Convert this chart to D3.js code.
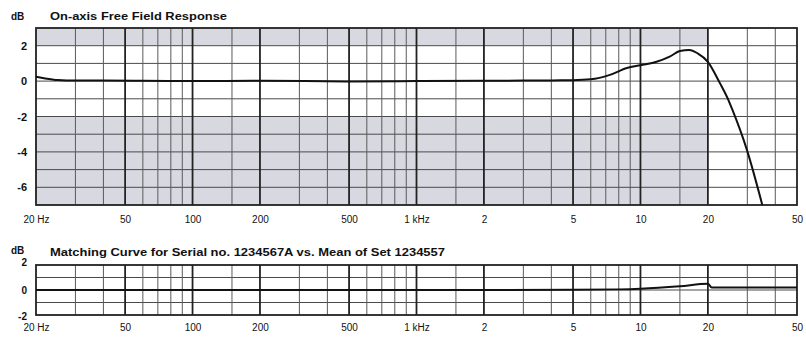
<!DOCTYPE html>
<html>
<head>
<meta charset="utf-8">
<script src="https://cdn.jsdelivr.net/npm/d3@7"></script>
<style>
  body { margin: 0; background: #fff; }
  text { font-family: "Liberation Sans", Arial, sans-serif; fill: #111; }
</style>
</head>
<body>
<div id="chart"></div>
<script>
// Frequency axis
var majorFreqs = [20, 50, 100, 200, 500, 1000, 2000, 5000, 10000, 20000, 50000];
var majorLabels = ["20 Hz", "50", "100", "200", "500", "1 kHz", "2", "5", "10", "20", "50"];
var minorFreqs = [30, 40, 60, 70, 80, 90, 150, 300, 400, 600, 700, 800, 900, 1500,
  3000, 4000, 6000, 7000, 8000, 9000, 15000, 30000, 40000];

// On-axis free field response (dB)
var respFreq = [20, 22, 25, 30, 40, 60, 100, 200, 500, 1000, 2000, 3000, 4000, 5000,
  6000, 7300, 8700, 10000, 11800, 13500, 15000, 16500, 18000, 20000, 22600, 24700, 25700, 29900, 35000];
var respDb = [0.25, 0.15, 0.06, 0.03, 0.03, 0.02, 0.0, 0.02, -0.02, 0.0, 0.02, 0.03, 0.04, 0.05,
  0.1, 0.35, 0.74, 0.9, 1.09, 1.38, 1.7, 1.76, 1.57, 1.09, -0.1, -1.07, -1.6, -3.9, -7.0];
var respTicks = [2, 0, -2, -4, -6];

// Matching curve (dB)
var matchFreq = [20, 100, 1000, 5000, 8000, 10000, 15000, 20000, 20800, 22000, 50000];
var matchDb = [0.0, 0.0, 0.0, 0.02, 0.05, 0.1, 0.3, 0.5, 0.2, 0.2, 0.2];
var matchTicks = [2, 0, -2];

// Shaded tolerance bands, up to 20 kHz
var shadeBands = [[2, 3], [-7, -2]];
var shadeLimit = 20000;

var svgWidth = 806, svgHeight = 340;
var left = 36, right = 797;

var svg = d3.select("#chart").append("svg")
  .attr("width", svgWidth)
  .attr("height", svgHeight);

var x = d3.scaleLog().domain([20, 50000]).range([left, right]);

function drawPanel(opt) {
  var y = d3.scaleLinear().domain(opt.domain).range([opt.bottom, opt.top]);
  var g = svg.append("g");

  // shading
  (opt.bands || []).forEach(function(b) {
    g.append("rect")
      .attr("x", x(20))
      .attr("y", y(b[1]))
      .attr("width", x(shadeLimit) - x(20))
      .attr("height", y(b[0]) - y(b[1]))
      .attr("fill", "#d8d8e1");
  });

  // horizontal grid every 1 dB
  g.selectAll(".hgrid")
    .data(d3.range(opt.domain[0] + 1, opt.domain[1]))
    .enter().append("line")
    .attr("x1", left).attr("x2", right)
    .attr("y1", d => y(d)).attr("y2", d => y(d))
    .attr("stroke", "#4a4a4a")
    .attr("stroke-width", 1);

  // vertical grid
  g.selectAll(".minor")
    .data(minorFreqs)
    .enter().append("line")
    .attr("x1", d => x(d)).attr("x2", d => x(d))
    .attr("y1", opt.top).attr("y2", opt.bottom)
    .attr("stroke", "#5a5a5a")
    .attr("stroke-width", 1);

  g.selectAll(".major")
    .data(majorFreqs.slice(1, -1))
    .enter().append("line")
    .attr("x1", d => x(d)).attr("x2", d => x(d))
    .attr("y1", opt.top).attr("y2", opt.bottom)
    .attr("stroke", "#222")
    .attr("stroke-width", 1.8);

  // frame
  g.append("rect")
    .attr("x", left).attr("y", opt.top)
    .attr("width", right - left).attr("height", opt.bottom - opt.top)
    .attr("fill", "none")
    .attr("stroke", "#222")
    .attr("stroke-width", 1.8);

  // curve
  var line = d3.line()
    .x(d => x(d[0]))
    .y(d => y(d[1]))
    .curve(d3.curveMonotoneX);
  g.append("path")
    .datum(d3.zip(opt.freq, opt.db))
    .attr("d", line)
    .attr("fill", "none")
    .attr("stroke", "#111")
    .attr("stroke-width", 2);

  // y labels
  g.selectAll(".ylab")
    .data(opt.ticks)
    .enter().append("text")
    .attr("x", 27)
    .attr("y", d => y(d) + opt.labelShift(d))
    .attr("text-anchor", "end")
    .attr("font-size", opt.labelSize)
    .attr("font-weight", "bold")
    .text(d => d);

  // x labels via axis
  var xAxis = d3.axisBottom(x)
    .tickValues(majorFreqs)
    .tickFormat((d, i) => majorLabels[i])
    .tickSize(0)
    .tickPadding(0);
  var ax = g.append("g")
    .attr("transform", `translate(0, ${opt.labelY})`)
    .call(xAxis);
  ax.select(".domain").remove();
  ax.selectAll("text")
    .attr("font-size", "10px")
    .attr("font-family", "'Liberation Sans', Arial, sans-serif")
    .attr("fill", "#111");

  // titles
  g.append("text")
    .attr("x", 11).attr("y", opt.titleY - opt.dbShift)
    .attr("font-size", "10px")
    .attr("font-weight", "bold")
    .text("dB");
  g.append("text")
    .attr("x", 50).attr("y", opt.titleY)
    .attr("font-size", "11px")
    .attr("font-weight", "bold")
    .attr("textLength", opt.titleLen)
    .attr("lengthAdjust", "spacingAndGlyphs")
    .text(opt.title);
}

drawPanel({
  domain: [-7, 3], top: 28, bottom: 205,
  bands: shadeBands,
  freq: respFreq, db: respDb, ticks: respTicks,
  labelShift: d => 4,
  labelSize: "11px",
  labelY: 216,
  titleY: 20,
  dbShift: 0,
  title: "On-axis Free Field Response",
  titleLen: 177
});

drawPanel({
  domain: [-2, 2], top: 265, bottom: 315,
  bands: [],
  freq: matchFreq, db: matchDb, ticks: matchTicks,
  labelShift: d => d === 2 ? 1 : (d === -2 ? 5 : 4),
  labelSize: "10px",
  labelY: 324,
  titleY: 256,
  dbShift: 2,
  title: "Matching Curve for Serial no. 1234567A vs. Mean of Set 1234557",
  titleLen: 395
});
</script>
</body>
</html>
